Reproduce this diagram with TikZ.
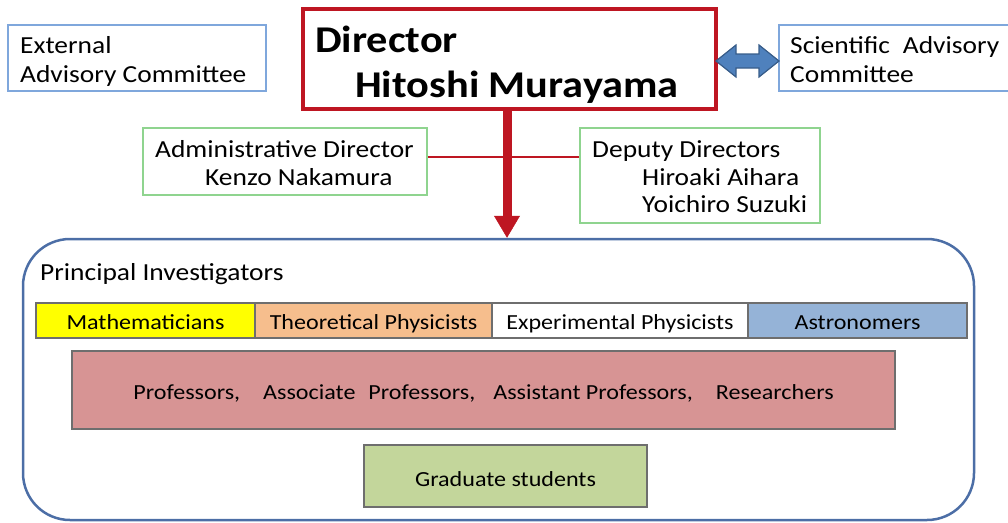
\documentclass[tikz,border=0pt]{standalone}
\usepackage{fontspec}
\setmainfont{Carlito}[FakeStretch=1.12]
\usetikzlibrary{arrows.meta}
\definecolor{extblue}{HTML}{7FA7DC}
\definecolor{dirred}{HTML}{BE1622}
\definecolor{boxgreen}{HTML}{8FD48F}
\definecolor{arrowblue}{HTML}{4F81BD}
\definecolor{arrowedge}{HTML}{385D8A}
\definecolor{piblue}{HTML}{4C6EA6}
\definecolor{cellgray}{HTML}{6E6E6E}
\definecolor{mathyellow}{HTML}{FFFF00}
\definecolor{theopeach}{HTML}{F6BE8D}
\definecolor{astroblue}{HTML}{95B3D7}
\definecolor{profpink}{HTML}{D79494}
\definecolor{gradgreen}{HTML}{C3D69B}
\tikzset{
  txt/.style={anchor=base west, inner sep=0pt, font=\fontsize{24.5}{29}\selectfont},
  dirtxt/.style={anchor=base west, inner sep=0pt, font=\fontsize{37.8}{44}\selectfont\bfseries},
  extbox/.style={draw=extblue, line width=1.5pt, inner sep=0pt},
  greenbox/.style={draw=boxgreen, line width=1.5pt, inner sep=0pt},
  dirbox/.style={draw=dirred, line width=3.5pt, inner sep=0pt},
  cell/.style={draw=cellgray, line width=1.5pt, inner sep=0pt, minimum height=35pt,
    text height=17pt, text depth=0pt, font=\fontsize{21.5}{25}\selectfont},
  bigbox/.style={draw=cellgray, line width=1.5pt, inner sep=0pt, font=\fontsize{21.5}{25}\selectfont},
}
\begin{document}
\begin{tikzpicture}[x=1pt,y=-1pt]
\useasboundingbox (0,0) rectangle (1008,522);
% top boxes
\node[extbox, minimum width=258pt, minimum height=66pt] (ext) at (137,58) {};
\node[txt] (extA) at (20,53) {External};
\node[txt] (extB) at (20,82) {Advisory Committee};
\node[extbox, minimum width=240pt, minimum height=66pt] (sci) at (899,58) {};
\node[txt] (sciA) at (790,53) {Scientific\hspace{13pt}Advisory};
\node[txt] (sciB) at (790,82) {Committee};
\node[dirbox, minimum width=413pt, minimum height=100pt] (dir) at (509.5,59) {};
\node[dirtxt] (dirA) at (315,52) {Director};
\node[dirtxt] (dirB) at (355,97) {Hitoshi Murayama};
% double arrow
\filldraw[fill=arrowblue, draw=arrowedge, line width=1.2pt]
  (716,61) -- (736,45) -- (736,54) -- (759,54) -- (759,45) -- (779,61)
  -- (759,77) -- (759,68) -- (736,68) -- (736,77) -- cycle;
% admin and deputy
\node[greenbox, minimum width=284pt, minimum height=67pt] (adm) at (285,161.5) {};
\node[txt] (admA) at (155,157) {Administrative Director};
\node[txt] (admB) at (205,185) {Kenzo Nakamura};
\node[greenbox, minimum width=240pt, minimum height=95pt] (dep) at (700,175.5) {};
\node[txt] (depA) at (592,157) {Deputy Directors};
\node[txt] (depB) at (642,185) {Hiroaki Aihara};
\node[txt] (depC) at (642,212) {Yoichiro Suzuki};
% principal investigators box
\node[draw=piblue, line width=2.5pt, rounded corners=47pt, minimum width=951pt,
  minimum height=281pt, inner sep=0pt] (pi) at (498.5,379.5) {};
\node[txt] (piA) at (40,280) {Principal Investigators};
% connectors
\draw[dirred, line width=2pt] ([yshift=4.5pt]adm.east) -- ([yshift=4.5pt]adm.east -| dep.west);
\draw[dirred, line width=9pt, -{Triangle[width=26pt,length=22pt,line width=0.5pt]}]
  ([xshift=-2.5pt]dir.south) -- ([xshift=-2.5pt]dir.south |- pi.north);
% category row
\node[cell, fill=mathyellow, minimum width=219pt] (math) at (145.5,320.5) {Mathematicians};
\node[cell, fill=theopeach, minimum width=237pt] (theo) at (373.5,320.5) {Theoretical Physicists};
\node[cell, fill=white, minimum width=256pt] (expt) at (620,320.5) {Experimental Physicists};
\node[cell, fill=astroblue, minimum width=219pt] (astro) at (857.5,320.5) {Astronomers};
% staff
\node[bigbox, fill=profpink, minimum width=823pt, minimum height=78pt, text height=18pt, text depth=0pt]
  (prof) at (483.5,390) {Professors,\hspace{23pt}Associate\hspace{13pt}Professors,\hspace{18pt}Assistant Professors,\hspace{23pt}Researchers};
\node[bigbox, fill=gradgreen, minimum width=283pt, minimum height=62pt, text height=20pt, text depth=0pt]
  (grad) at (505.5,476) {Graduate students};
\end{tikzpicture}
\end{document}
